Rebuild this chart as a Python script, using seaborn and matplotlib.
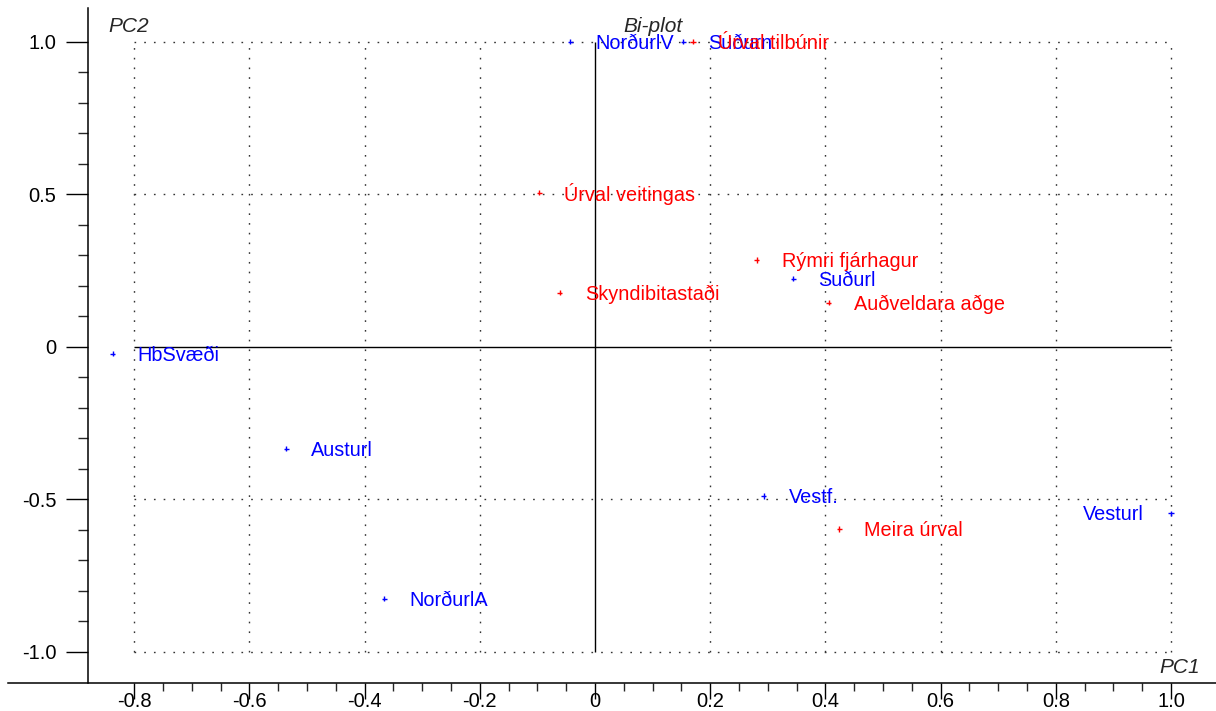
import pandas as pd
import matplotlib
matplotlib.use("Agg")
import matplotlib.pyplot as plt
import seaborn as sns
from matplotlib.ticker import FixedLocator, FuncFormatter

# observations (blue) and variables (red) of the bi-plot
obs_names = ["NorðurlV", "Suðurn", "Suðurl", "HbSvæði", "Austurl", "NorðurlA", "Vestf.", "Vesturl"]
obs_pc1 = [-0.043, 0.153, 0.344, -0.837, -0.536, -0.366, 0.293, 1.0]
obs_pc2 = [1.0, 1.0, 0.223, -0.023, -0.334, -0.826, -0.489, -0.546]

var_names = ["Úrval tilbúnir", "Úrval veitingas", "Rýmri fjárhagur", "Skyndibitastaði",
             "Auðveldara aðge", "Meira úrval"]
var_pc1 = [0.170, -0.097, 0.281, -0.061, 0.406, 0.424]
var_pc2 = [1.0, 0.506, 0.285, 0.177, 0.145, -0.597]

x_ticks = [-0.8, -0.6, -0.4, -0.2, 0.0, 0.2, 0.4, 0.6, 0.8, 1.0]
y_ticks = [-1.0, -0.5, 0.0, 0.5, 1.0]

df = pd.concat([
    pd.DataFrame({"name": obs_names, "PC1": obs_pc1, "PC2": obs_pc2, "kind": "obs"}),
    pd.DataFrame({"name": var_names, "PC1": var_pc1, "PC2": var_pc2, "kind": "var"}),
], ignore_index=True)
colors = {"obs": "#0000ff", "var": "#ff0000"}

sns.set_style("white")
plt.rcParams["font.family"] = ["Liberation Sans", "DejaVu Sans"]
plt.rcParams["axes.unicode_minus"] = False

fig = plt.figure(figsize=(12.16, 7.11), dpi=100)
ax = fig.add_axes([8 / 1216, 28 / 711, 1208 / 1216, 675 / 711])

# dotted grid inside the unit box, solid zero lines
grid_style = dict(color="#333333", linewidth=1.0, linestyle=(0, (1.2, 5.8)), zorder=0)
for gx in x_ticks:
    if gx != 0:
        ax.vlines(gx, y_ticks[0], y_ticks[-1], **grid_style)
for gy in y_ticks:
    if gy != 0:
        ax.hlines(gy, x_ticks[0], x_ticks[-1], **grid_style)
ax.hlines(0, x_ticks[0], x_ticks[-1], color="black", linewidth=1.0, zorder=1)
ax.vlines(0, y_ticks[0], y_ticks[-1], color="black", linewidth=1.0, zorder=1)

sns.scatterplot(data=df, x="PC1", y="PC2", hue="kind", palette=colors, marker="+",
                s=14, linewidth=1.0, legend=False, ax=ax, zorder=3)

for _, r in df.iterrows():
    if r["name"] == "Vesturl":
        off, ha = (-20, -1), "right"
    else:
        off, ha = (18, -1), "left"
    ax.annotate(r["name"], (r["PC1"], r["PC2"]), xytext=off, textcoords="offset points",
                ha=ha, va="center", fontsize=14.3, color=colors[r["kind"]], zorder=4)

ax.set_xlim(-1.019, 1.078)
ax.set_ylim(-1.102, 1.111)

for s in ["top", "right"]:
    ax.spines[s].set_visible(False)
ax.spines["left"].set_position(("data", -0.88))
for s in ["left", "bottom"]:
    ax.spines[s].set_color("black")
    ax.spines[s].set_linewidth(1.1)

ax.xaxis.set_major_locator(FixedLocator(x_ticks))
ax.xaxis.set_minor_locator(FixedLocator([-0.8 + 0.05 * i for i in range(37)]))
ax.yaxis.set_major_locator(FixedLocator(y_ticks))
ax.yaxis.set_minor_locator(FixedLocator([-1.0 + 0.1 * i for i in range(21)]))
fmt = FuncFormatter(lambda v, p: "0" if abs(v) < 1e-9 else f"{v:.1f}")
ax.xaxis.set_major_formatter(fmt)
ax.yaxis.set_major_formatter(fmt)
ax.tick_params(axis="x", which="major", direction="out", length=11.5, width=1, pad=-5,
               labelsize=14.5, colors="black", bottom=True)
ax.tick_params(axis="x", which="minor", direction="out", length=5.5, width=1, bottom=True)
ax.tick_params(axis="y", which="major", direction="out", length=16, width=1, pad=7,
               labelsize=14.5, colors="black", left=True)
ax.tick_params(axis="y", which="minor", direction="out", length=7, width=1, left=True)
ax.set_xlabel("")
ax.set_ylabel("")

ax.text(0.10, 1.05, "Bi-plot", fontsize=15, style="italic", ha="center", va="center")
ax.text(-0.844, 1.05, "PC2", fontsize=15, style="italic", ha="left", va="center")
ax.text(1.05, -1.052, "PC1", fontsize=15, style="italic", ha="right", va="center")

fig.savefig("out.png", dpi=100)
